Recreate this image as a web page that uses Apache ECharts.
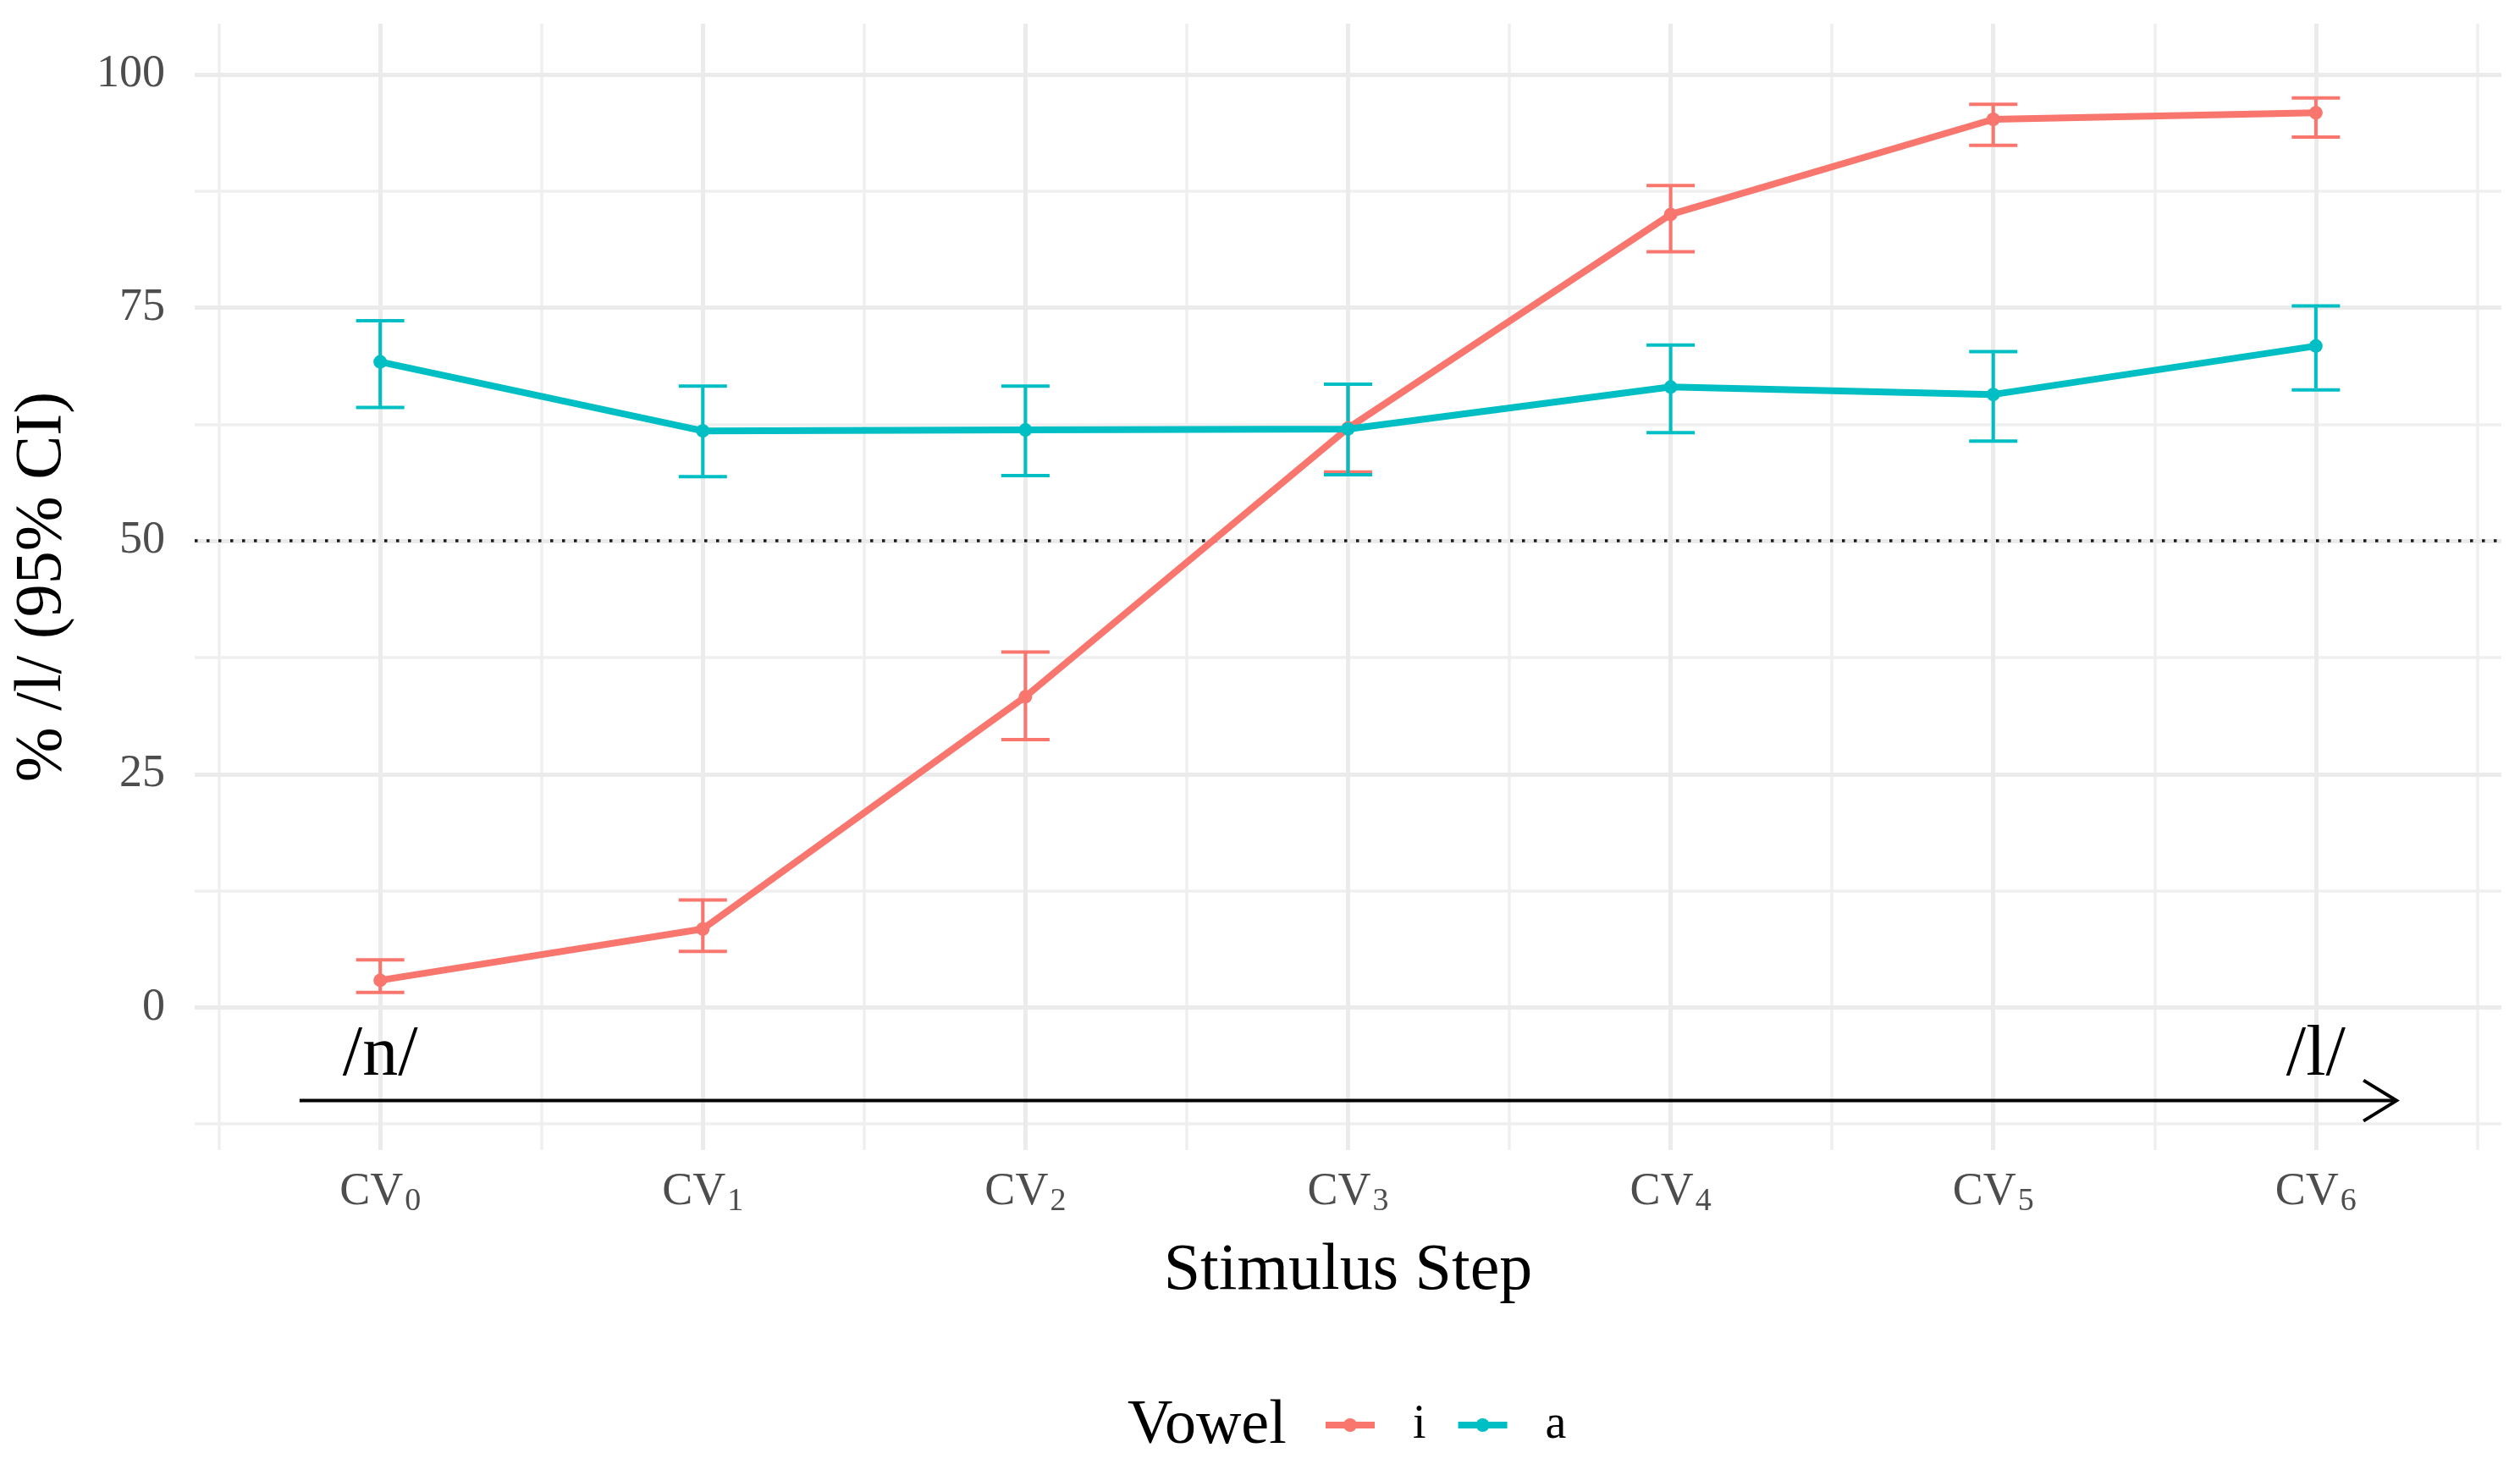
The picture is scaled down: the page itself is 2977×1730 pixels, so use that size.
<!DOCTYPE html>
<html><head><meta charset="utf-8">
<script src="https://cdn.jsdelivr.net/npm/echarts@6/dist/echarts.min.js"></script>
<style>html,body{margin:0;padding:0;background:#fff;}#c{width:2977px;height:1730px;}</style>
</head><body><div id="c"></div>
<script>
// ---- data ----
const steps = ['0','1','2','3','4','5','6'];
const stepX = [0,1,2,3,4,5,6];
const iMean = [2.9, 8.4, 33.3, 62.1, 85.0, 95.2, 95.9];
const iLow  = [1.6, 6.0, 28.7, 57.4, 81.0, 92.4, 93.3];
const iHigh = [5.1, 11.5, 38.1, 66.8, 88.1, 96.8, 97.5];
const aMean = [69.2, 61.8, 61.9, 62.0, 66.5, 65.7, 70.9];
const aLow  = [64.3, 56.9, 57.0, 57.1, 61.6, 60.7, 66.2];
const aHigh = [73.6, 66.6, 66.6, 66.8, 71.0, 70.3, 75.2];
const yTicks = [0, 25, 50, 75, 100];
const yMinor = [-12.5, 12.5, 37.5, 62.5, 87.5];
const xMinor = [-0.5, 0.5, 1.5, 2.5, 3.5, 4.5, 5.5, 6.5];
const refLine = 50;
const arrowFrom = [-0.25, -10];
const arrowTo = [6.25, -10];
const annotX = [0, 6];
const annotY = [-5.2, -5.2];
const annotText = ['/n/', '/l/'];

// ---- style ----
const FONT = '"Liberation Serif", "DejaVu Serif", serif';
const RED = '#F8766D', TEAL = '#00BFC4';
const GRID_MAJ = {color: '#EBEBEB', width: 5, type: 'solid'};
const GRID_MIN = {color: '#EFEFEF', width: 3.5, type: 'solid'};

const chart = echarts.init(document.getElementById('c'), null, {renderer: 'canvas'});

function errBar(color) {
  return function (params, api) {
    const x = api.value(0), lo = api.value(1), hi = api.value(2);
    const pH = api.coord([x, hi]), pL = api.coord([x, lo]);
    const w = 28.5;
    const st = {stroke: color, lineWidth: 4};
    return {type: 'group', children: [
      {type: 'line', shape: {x1: pH[0], y1: pH[1], x2: pL[0], y2: pL[1]}, style: st},
      {type: 'line', shape: {x1: pH[0]-w, y1: pH[1], x2: pH[0]+w, y2: pH[1]}, style: st},
      {type: 'line', shape: {x1: pL[0]-w, y1: pL[1], x2: pL[0]+w, y2: pL[1]}, style: st}
    ]};
  };
}

const gridLines = [];
yMinor.forEach(v => gridLines.push({yAxis: v, lineStyle: GRID_MIN}));
xMinor.forEach(v => gridLines.push({xAxis: v, lineStyle: GRID_MIN}));
yTicks.forEach(v => gridLines.push({yAxis: v, lineStyle: GRID_MAJ}));
stepX.forEach(v => gridLines.push({xAxis: v, lineStyle: GRID_MAJ}));

const option = {
  backgroundColor: '#ffffff',
  animation: false,
  textStyle: {fontFamily: FONT},
  title: {
    text: 'Vowel', left: 1332, top: 1649, padding: 0,
    textStyle: {fontFamily: FONT, fontSize: 74, fontWeight: 'normal', color: '#000', lineHeight: 74}
  },
  legend: {
    data: ['i', 'a'], left: 1562, top: 1656, padding: 0,
    itemWidth: 58, itemHeight: 20, itemGap: 34,
    lineStyle: {width: 8},
    textStyle: {fontFamily: FONT, fontSize: 56, color: '#000', lineHeight: 56, padding: [0, 0, 0, 40]}
  },
  grid: {left: 230, right: 22, top: 28, bottom: 371, containLabel: false},
  xAxis: {
    type: 'value', min: -0.575, max: 6.575,
    name: 'Stimulus Step', nameLocation: 'middle', nameGap: 105,
    nameTextStyle: {fontFamily: FONT, fontSize: 78, color: '#000'},
    axisLine: {show: false}, axisTick: {show: false}, splitLine: {show: false},
    axisLabel: {
      customValues: stepX, margin: 20, color: '#4D4D4D',
      formatter: v => '{m|CV}{s|' + steps[Math.round(v)] + '}',
      rich: {
        m: {fontFamily: FONT, fontSize: 54, color: '#4D4D4D', lineHeight: 60},
        s: {fontFamily: FONT, fontSize: 38, color: '#4D4D4D', lineHeight: 60, padding: [22, 0, 0, 2]}
      }
    }
  },
  yAxis: {
    type: 'value', min: -15.3, max: 105.45,
    name: '% /l/ (95% CI)', nameLocation: 'middle', nameGap: 140, nameRotate: 90,
    nameTextStyle: {fontFamily: FONT, fontSize: 78, color: '#000'},
    axisLine: {show: false}, axisTick: {show: false}, splitLine: {show: false},
    axisLabel: {customValues: yTicks, margin: 35, color: '#4D4D4D', fontFamily: FONT, fontSize: 54}
  },
  series: [
    {
      name: 'grid', type: 'line', data: [], z: 1, silent: true,
      markLine: {z: 1, silent: true, symbol: ['none', 'none'], label: {show: false}, animation: false, data: gridLines}
    },
    {
      name: 'ref', type: 'line', data: [], z: 2, silent: true,
      markLine: {z: 2, silent: true, symbol: ['none', 'none'], label: {show: false}, animation: false,
        data: [{yAxis: refLine, lineStyle: {color: '#1a1a1a', width: 3.5, type: [3.5, 10.5]}}]}
    },
    {
      name: 'i CI', type: 'custom', z: 10, silent: true,
      data: stepX.map((x, k) => [x, iLow[k], iHigh[k]]),
      encode: {x: 0, y: [1, 2]}, renderItem: errBar(RED)
    },
    {
      name: 'a CI', type: 'custom', z: 11, silent: true,
      data: stepX.map((x, k) => [x, aLow[k], aHigh[k]]),
      encode: {x: 0, y: [1, 2]}, renderItem: errBar(TEAL)
    },
    {
      name: 'i', type: 'line', z: 12, color: RED,
      data: stepX.map((x, k) => [x, iMean[k]]),
      symbol: 'circle', symbolSize: 16, showSymbol: true,
      lineStyle: {width: 8, color: RED}, itemStyle: {color: RED}
    },
    {
      name: 'a', type: 'line', z: 13, color: TEAL,
      data: stepX.map((x, k) => [x, aMean[k]]),
      symbol: 'circle', symbolSize: 16, showSymbol: true,
      lineStyle: {width: 8, color: TEAL}, itemStyle: {color: TEAL}
    },
    {
      name: 'arrow', type: 'custom', z: 14, silent: true,
      data: [[arrowFrom[0], arrowFrom[1], arrowTo[0], arrowTo[1]]],
      encode: {x: [0, 2], y: [1, 3]},
      renderItem: function (params, api) {
        const p1 = api.coord([api.value(0), api.value(1)]);
        const p2 = api.coord([api.value(2), api.value(3)]);
        const st = {stroke: '#000', lineWidth: 4, fill: null};
        return {type: 'group', children: [
          {type: 'line', shape: {x1: p1[0], y1: p1[1], x2: p2[0], y2: p2[1]}, style: st},
          {type: 'polyline', shape: {points: [[p2[0]-39, p2[1]-24], [p2[0], p2[1]], [p2[0]-39, p2[1]+24]]}, style: st}
        ]};
      }
    },
    {
      name: 'annot', type: 'custom', z: 14, silent: true,
      data: annotX.map((x, k) => [x, annotY[k], k]),
      encode: {x: 0, y: 1},
      renderItem: function (params, api) {
        const p = api.coord([api.value(0), api.value(1)]);
        return {type: 'text', x: p[0], y: p[1], style: {
          text: annotText[api.value(2)], fontFamily: FONT, fontSize: 84, fill: '#000',
          align: 'center', verticalAlign: 'middle'
        }};
      }
    }
  ]
};
chart.setOption(option);
</script>
</body></html>
